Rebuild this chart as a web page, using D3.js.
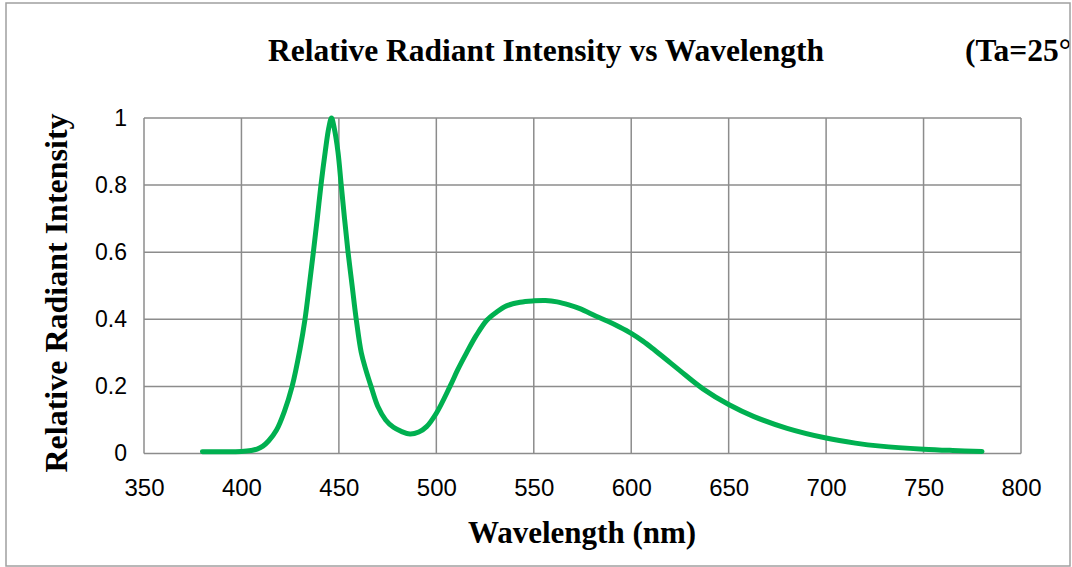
<!DOCTYPE html>
<html>
<head>
<meta charset="utf-8">
<script src="https://cdn.jsdelivr.net/npm/d3@7"></script>
<style>
  body { margin: 0; background: #fff; }
  svg { display: block; }
  .tick text { font-family: "Liberation Sans", Arial, sans-serif; }
  .ttl { font-family: "Liberation Serif", "Times New Roman", serif; font-weight: bold; }
</style>
</head>
<body>
<script>
// spectrum (nm, relative intensity)
var wavelength = [380, 390, 400, 405, 408, 411, 414, 418, 422, 426, 430, 432.6, 434.8, 436.9, 438.9, 440.8, 443, 444.8, 446.2, 447.6,
  449.5, 451.2, 452.9, 454.7, 456.8, 458.9, 461.5, 463.8, 466.5, 470, 474, 478, 482, 486.5, 491, 495, 500, 507, 511, 515.5,
  520.5, 526, 531, 536, 543, 550, 556, 562, 568, 574, 582, 588, 594, 600, 606, 611, 618, 625, 637, 650,
  663, 680, 700, 715, 728, 750, 765, 780];
var intensity = [0.005, 0.005, 0.006, 0.009, 0.013, 0.022, 0.038, 0.07, 0.125, 0.2, 0.31, 0.4, 0.5, 0.6, 0.7, 0.8, 0.9, 0.97, 1.0, 0.97,
  0.9, 0.8, 0.7, 0.6, 0.5, 0.4, 0.3, 0.25, 0.2, 0.14, 0.1, 0.078, 0.066, 0.058, 0.064, 0.08, 0.12, 0.2, 0.25, 0.3,
  0.352, 0.398, 0.422, 0.44, 0.451, 0.455, 0.456, 0.452, 0.443, 0.431, 0.409, 0.394, 0.377, 0.358, 0.335, 0.313, 0.28, 0.247, 0.192, 0.146,
  0.11, 0.075, 0.046, 0.031, 0.022, 0.013, 0.009, 0.006];
var xTicks = [350, 400, 450, 500, 550, 600, 650, 700, 750, 800];
var yTicks = [0, 0.2, 0.4, 0.6, 0.8, 1];

var W = 1072, H = 567;
var plotLeft = 144, plotRight = 1021, plotTop = 118, plotBottom = 453.5;
var gridColor = "#8c8c8c", lineColor = "#00b050";

var svg = d3.select("body").append("svg")
  .attr("width", W)
  .attr("height", H);

svg.append("clipPath").attr("id", "frame")
  .append("rect").attr("x", 0).attr("y", 0).attr("width", 1070).attr("height", H);

var x = d3.scaleLinear().domain([350, 800]).range([plotLeft, plotRight]);
var y = d3.scaleLinear().domain([0, 1]).range([plotBottom, plotTop]);

// grid
svg.append("g")
  .selectAll("line")
  .data(xTicks)
  .enter().append("line")
  .attr("x1", function(d) { return x(d); })
  .attr("x2", function(d) { return x(d); })
  .attr("y1", plotTop).attr("y2", plotBottom)
  .attr("stroke", gridColor).attr("stroke-width", 1.5);

svg.append("g")
  .selectAll("line")
  .data(yTicks)
  .enter().append("line")
  .attr("x1", plotLeft).attr("x2", plotRight)
  .attr("y1", function(d) { return y(d); })
  .attr("y2", function(d) { return y(d); })
  .attr("stroke", gridColor).attr("stroke-width", 1.5);

// axes (labels only)
var xAxis = svg.append("g")
  .attr("transform", "translate(0," + plotBottom + ")")
  .call(d3.axisBottom(x).tickValues(xTicks).tickSize(0).tickPadding(25));
xAxis.select(".domain").remove();
xAxis.selectAll("text").attr("font-size", 24).attr("fill", "#000");

var yAxis = svg.append("g")
  .attr("transform", "translate(" + plotLeft + ",0)")
  .call(d3.axisLeft(y).tickValues(yTicks).tickFormat(d3.format("~g")).tickSize(0).tickPadding(17));
yAxis.select(".domain").remove();
yAxis.selectAll("text").attr("font-size", 23).attr("fill", "#000");

// curve
var pts = wavelength.map(function(w, i) { return [w, intensity[i]]; });
var line = d3.line()
  .x(function(d) { return x(d[0]); })
  .y(function(d) { return y(d[1]); })
  .curve(d3.curveCatmullRom.alpha(0.5));

svg.append("path")
  .datum(pts)
  .attr("d", line)
  .attr("fill", "none")
  .attr("stroke", lineColor)
  .attr("stroke-width", 5)
  .attr("stroke-linejoin", "round")
  .attr("stroke-linecap", "round");

// titles
var titles = svg.append("g").attr("clip-path", "url(#frame)");
titles.append("text").attr("class", "ttl")
  .attr("x", 546).attr("y", 61)
  .attr("text-anchor", "middle").attr("font-size", 31.5)
  .text("Relative Radiant Intensity vs Wavelength");
titles.append("text").attr("class", "ttl")
  .attr("x", 965).attr("y", 61)
  .attr("font-size", 31.5)
  .text("(Ta=25°C)");

svg.append("text").attr("class", "ttl")
  .attr("x", 582).attr("y", 543)
  .attr("text-anchor", "middle").attr("font-size", 31)
  .text("Wavelength (nm)");

svg.append("text").attr("class", "ttl")
  .attr("transform", "translate(67,293) rotate(-90)")
  .attr("text-anchor", "middle").attr("font-size", 32)
  .text("Relative Radiant Intensity");

// outer frame
svg.append("rect")
  .attr("x", 6).attr("y", 3)
  .attr("width", 1064).attr("height", 563)
  .attr("fill", "none")
  .attr("stroke", "#a0a0a0").attr("stroke-width", 1.5);
</script>
</body>
</html>
